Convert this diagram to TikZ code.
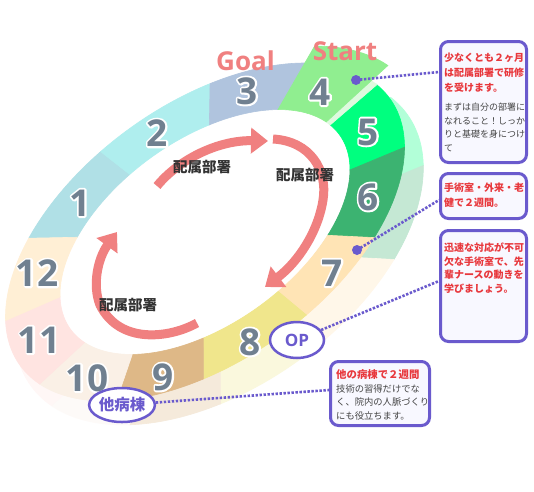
\documentclass[tikz,border=0pt]{standalone}
\usepackage{fontspec}
\usetikzlibrary{arrows.meta,shapes.geometric}
\newfontfamily\jpfont{Noto Sans CJK JP}
\newfontfamily\osfont{Open Sans}
\newcommand\halo[1]{\rlap{\special{pdf:literal direct 1 Tr 3.8 w 1 j 1 1 1 RG}#1\special{pdf:literal direct 0 Tr}}#1}
\definecolor{c1}{HTML}{B0E0E6}
\definecolor{c2}{HTML}{AFEEEE}
\definecolor{c3}{HTML}{B0C4DE}
\definecolor{c4}{HTML}{90EE90}
\definecolor{c5}{HTML}{00FF7F}
\definecolor{c6}{HTML}{3CB371}
\definecolor{c7}{HTML}{FFE4B5}
\definecolor{c8}{HTML}{F0E68C}
\definecolor{c9}{HTML}{DEB887}
\definecolor{c10}{HTML}{FAF0E6}
\definecolor{c11}{HTML}{FFE4E1}
\definecolor{c12}{HTML}{FFEFD5}
\definecolor{coral}{HTML}{F08080}
\definecolor{numgray}{HTML}{708090}
\definecolor{sblue}{HTML}{6A5ACD}
\definecolor{jpred}{HTML}{E8383D}
\definecolor{jpgray}{HTML}{444444}
\definecolor{lbl}{HTML}{333333}
\definecolor{boxbg}{HTML}{F8F8FF}
\newcommand\ringseg[6]{%
  \fill[#1,draw=#1,line width=0.6pt] plot[domain=#2:#3,samples=30] ({#6*228*cos(\x)},{#6*128*sin(\x)})
    -- plot[domain=#5:#4,samples=30] ({166*cos(\x)},{92*sin(\x)}) -- cycle;}
\newcommand\sideseg[3]{%
  \fill[#1,draw=#1,line width=0.6pt] (0.85,22.8) -- plot[domain=#2:#3,samples=30] ({0.85+232*cos(\x)},{22.8+136*sin(\x)}) -- cycle;}
\tikzset{
  numst/.style={font=\osfont\bfseries\fontsize{37}{37}\selectfont, text=numgray, inner sep=0pt},
  ttlst/.style={font=\osfont\bfseries\fontsize{26}{26}\selectfont, text=coral, inner sep=0pt, anchor=base},
  bzst/.style={font=\jpfont\bfseries\fontsize{14.5}{16}\selectfont, text=lbl, inner sep=0pt},
  redarrow/.style={draw=coral, line width=9pt, -{Triangle[length=17pt,width=25pt]}},
  dotst/.style={circle, fill=sblue, inner sep=0pt, minimum size=10pt},
  dotline/.style={draw=sblue, line width=2.6pt, dash pattern=on 2.4pt off 1.6pt},
  boxst/.style={draw=sblue, line width=3pt, fill=boxbg, rounded corners=8pt, inner sep=0pt},
  ovalst/.style={ellipse, draw=sblue, line width=2.5pt, fill=white, inner sep=0pt, text=sblue},
  redtxt/.style={font=\jpfont\bfseries\fontsize{10}{12}\selectfont, text=jpred, anchor=west, inner sep=0pt},
  graytxt/.style={font=\jpfont\fontsize{9}{11}\selectfont, text=jpgray, anchor=west, inner sep=0pt},
}
\begin{document}
\begin{tikzpicture}[x=1pt,y=-1pt]
\useasboundingbox (0,0) rectangle (534,491);
\fill[white] (0,0) rectangle (534,491);
% ring
\begin{scope}[shift={(205,232)},rotate=35.8]
\sideseg{c5!30}{350}{382}
\sideseg{c6!30}{382}{414}
\sideseg{c7!30}{54}{81.5}
\sideseg{c8!30}{81.5}{112.5}
\sideseg{c9!30}{112.5}{139}
\sideseg{c10!30}{139}{168}
\sideseg{c11!30}{168}{200.5}
\fill[white] plot[domain=0:360,samples=120] ({166*cos(\x)},{92*sin(\x)}) -- cycle;
\ringseg{c1}{230}{260.5}{230}{260.5}{1}
\ringseg{c2}{260.5}{293.5}{260.5}{293.5}{1}
\ringseg{c3}{293.5}{322}{293.5}{322}{1}
\ringseg{c5}{351}{382}{351}{382}{1}
\ringseg{c6}{382}{414}{382}{414}{1}
\ringseg{c7}{54}{81.5}{54}{81.5}{1}
\ringseg{c8}{81.5}{112.5}{81.5}{112.5}{1}
\ringseg{c9}{112.5}{138.4}{112.5}{141.9}{1}
\ringseg{c10}{138.4}{168}{141.9}{168}{1}
\ringseg{c11}{168}{200.5}{168}{200.5}{1}
\ringseg{c12}{200.5}{230}{200.5}{230}{1}
\ringseg{c4!30}{348}{351.5}{348}{351.5}{1}
\ringseg{c4}{322}{348.5}{322}{348.5}{1.1}
\end{scope}
% numbers
\node[numst] (n1) at (80,203) {\halo{1}};
\node[numst] (n2) at (157,133) {\halo{2}};
\node[numst] (n3) at (247,91) {\halo{3}};
\node[numst] (n4) at (320,92) {\halo{4}};
\node[numst] (n5) at (368,132) {\halo{5}};
\node[numst] (n6) at (368,197) {\halo{6}};
\node[numst] (n7) at (332,273) {\halo{7}};
\node[numst] (n8) at (250,342) {\halo{8}};
\node[numst] (n9) at (163,377) {\halo{9}};
\node[numst] (n10) at (87,378) {\halo{10}};
\node[numst] (n11) at (39,340) {\halo{11}};
\node[numst] (n12) at (37,273) {\halo{12}};
\node[ttlst] (goal) at (245.5,70) {Goal};
\node[ttlst] (start) at (345,60) {Start};
% arrows
\coordinate (a1s) at (157,186);
\coordinate (a1e) at (268,141);
\draw[redarrow] (a1s) .. controls (180,158) and (220,140) .. (a1e);
\coordinate (a2s) at (273,139);
\coordinate (a2m) at (323,200);
\coordinate (a2e) at (265,287);
\draw[redarrow] (a2s) .. controls (310,141) and (328,170) .. (a2m) .. controls (318,232) and (298,262) .. (a2e);
\coordinate (a3s) at (197,323);
\coordinate (a3m) at (100,305);
\coordinate (a3e) at (117,232);
\draw[redarrow] (a3s) .. controls (170,338) and (120,345) .. (a3m) .. controls (92,285) and (98,258) .. (a3e);
\node[bzst] (bz1) at (202,167) {配属部署};
\node[bzst] (bz2) at (305,175) {配属部署};
\node[bzst] (bz3) at (128,305.5) {配属部署};
% boxes
\node[boxst, minimum width=86pt, minimum height=121pt] (box1) at (483.5,102) {};
\node[boxst, minimum width=86pt, minimum height=45pt] (box2) at (483.5,196) {};
\node[boxst, minimum width=86pt, minimum height=111pt] (box3) at (483.5,286) {};
\node[boxst, minimum width=99pt, minimum height=64pt] (box4) at (380,393.5) {};
\node[redtxt] (t1a) at (444,58) {少なくとも２ヶ月};
\node[redtxt] (t1b) at (444,73) {は配属部署で研修};
\node[redtxt] (t1c) at (444,88) {を受けます。};
\node[graytxt] (t1d) at (444,107) {まずは自分の部署に};
\node[graytxt] (t1e) at (444,120.7) {なれること！しっか};
\node[graytxt] (t1f) at (444,134.4) {りと基礎を身につけ};
\node[graytxt] (t1g) at (444,148) {て};
\node[redtxt] (t2a) at (444,188) {手術室・外来・老};
\node[redtxt] (t2b) at (444,203) {健で２週間。};
\node[redtxt] (t3a) at (444,248) {迅速な対応が不可};
\node[redtxt] (t3b) at (444,261.6) {欠な手術室で、先};
\node[redtxt] (t3c) at (444,275.2) {輩ナースの動きを};
\node[redtxt] (t3d) at (444,288.8) {学びましょう。};
\node[redtxt, font=\jpfont\bfseries\fontsize{10.4}{12}\selectfont] (t4a) at (336,375) {他の病棟で２週間};
\node[graytxt, font=\jpfont\fontsize{9.3}{11}\selectfont] (t4b) at (336,388.5) {技術の習得だけでな};
\node[graytxt, font=\jpfont\fontsize{9.3}{11}\selectfont] (t4c) at (336,402) {く、院内の人脈づくり};
\node[graytxt, font=\jpfont\fontsize{9.3}{11}\selectfont] (t4d) at (336,415.5) {にも役立ちます。};
% connectors
\node[ovalst, minimum width=54pt, minimum height=36pt, font=\osfont\bfseries\fontsize{17}{17}\selectfont] (op) at (297,340) {OP};
\node[ovalst, minimum width=56pt, minimum height=34pt, font=\jpfont\bfseries\fontsize{15.5}{16}\selectfont] (hb) at (122,405) {他病棟};
\node[dotst] (dot1) at (356,80) {};
\node[dotst] (dot2) at (357,250) {};
\coordinate (b1c) at (439,72);
\coordinate (b2c) at (439,200);
\coordinate (b3c) at (439,281);
\coordinate (b4c) at (329,390);
\draw[dotline] (dot1.center) -- (b1c);
\draw[dotline] (dot2.center) -- (b2c);
\draw[dotline] (op) -- (b3c);
\draw[dotline] (hb) -- (b4c);
\end{tikzpicture}
\end{document}
